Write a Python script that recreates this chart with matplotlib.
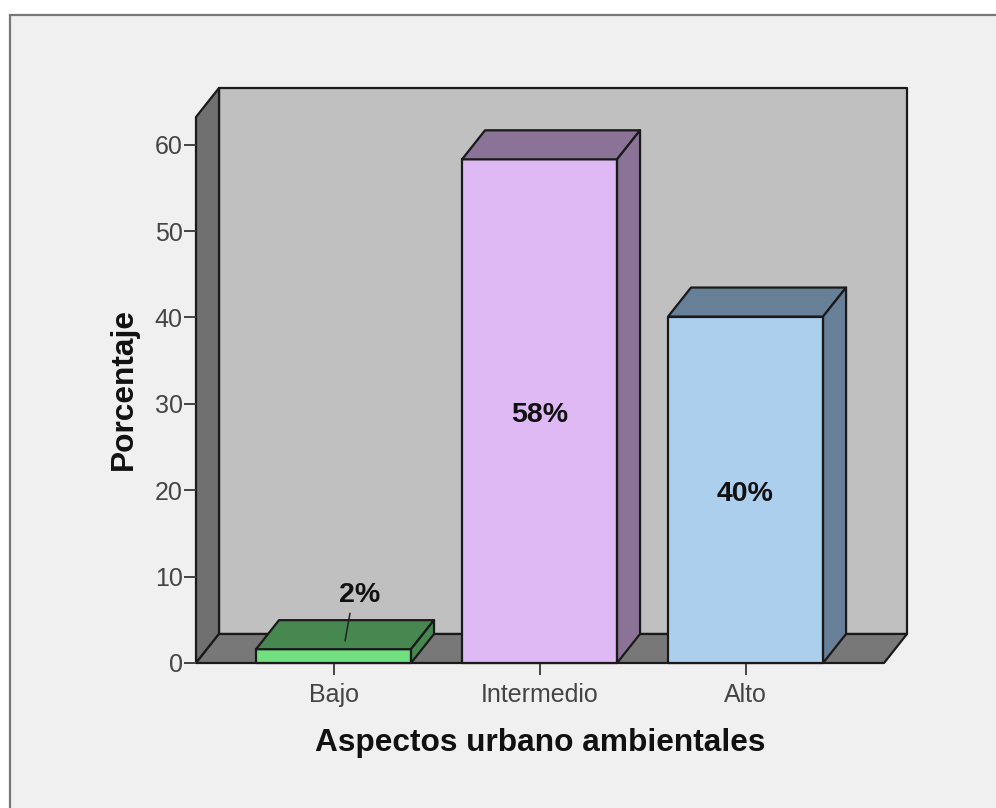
import matplotlib
matplotlib.use('Agg')
import matplotlib.pyplot as plt
import matplotlib.patches as mpatches

categories = ['Bajo', 'Intermedio', 'Alto']
values = [1.6, 58.3, 40.1]
labels = ['2%', '58%', '40%']
yticks = [0, 10, 20, 30, 40, 50, 60]

front_colors = ['#70E080', '#DFB9F3', '#ADCFEE']
top_colors = ['#468850', '#8A7396', '#688097']

plt.rcParams['font.family'] = ['Liberation Sans', 'DejaVu Sans']

W, H = 996, 808
fig = plt.figure(figsize=(W/100, H/100), dpi=100, facecolor='white')

# grey panel behind the chart, runs off the right and bottom edge
panel = mpatches.Rectangle((10/W, -0.01), 1, 1.01 - 15/H, transform=fig.transFigure,
	fc='#F0F0F0', ec='#777777', lw=1.6, zorder=-1)
fig.add_artist(panel)

ax = fig.add_axes([196/W, 1 - 663/H, (884-196)/W, (663-117)/H])
ax.patch.set_visible(False)
ax.set_xlim(-0.6675, 2.672)
ax.set_ylim(0, 63.2)
for s in ax.spines.values():
	s.set_visible(False)

# depth of the fake 3d box, in data units
dx = 23/206
dy = 29/8.633
x0, x1 = ax.get_xlim()
y0, y1 = ax.get_ylim()
edge = '#1A1A1A'

def poly(pts, fc, z=1):
	ax.add_patch(mpatches.Polygon(pts, closed=True, fc=fc, ec=edge, lw=1.6, zorder=z,
		clip_on=False, joinstyle='round'))

poly([(x0+dx, y0+dy), (x1+dx, y0+dy), (x1+dx, y1+dy), (x0+dx, y1+dy)], '#C0C0C0')
poly([(x0, y0), (x0+dx, y0+dy), (x0+dx, y1+dy), (x0, y1)], '#707070')
poly([(x0, y0), (x1, y0), (x1+dx, y0+dy), (x0+dx, y0+dy)], '#787878')

width = 155/206
for i, v in enumerate(values):
	l = i - width/2
	r = i + width/2
	poly([(l, 0), (r, 0), (r, v), (l, v)], front_colors[i], 3)
	poly([(l, v), (r, v), (r+dx, v+dy), (l+dx, v+dy)], top_colors[i], 3)
	poly([(r, 0), (r+dx, dy), (r+dx, v+dy), (r, v)], top_colors[i], 3)

ax.annotate(labels[0], xy=(0.056, 2.55), xytext=(0.128, 7.9), ha='center', va='center',
	fontsize=20.5, fontweight='bold', color='#111111', zorder=5,
	arrowprops=dict(arrowstyle='-', color='#222222', lw=1.1, shrinkA=2, shrinkB=0,
		relpos=(0.34, 0.5)))
ax.text(1, 28.7, labels[1], ha='center', va='center', fontsize=20.5,
	fontweight='bold', color='#111111', zorder=5)
ax.text(2, 19.6, labels[2], ha='center', va='center', fontsize=20.5,
	fontweight='bold', color='#111111', zorder=5)

ax.set_xticks(range(len(categories)))
ax.set_xticklabels(categories)
ax.set_yticks(yticks)
ax.tick_params(axis='both', length=8.6, width=1.4, color='#444444', labelsize=18,
	labelcolor='#444444', pad=1)
ax.tick_params(axis='x', pad=5.7)

ax.set_xlabel('Aspectos urbano ambientales', fontsize=22.8, fontweight='bold', color='#111111',
	labelpad=15)
ax.set_ylabel('Porcentaje', fontsize=22.8, fontweight='bold', color='#111111')
ax.yaxis.set_label_coords(-57/688, (663-389)/546)

fig.savefig('out.png', dpi=100, facecolor=fig.get_facecolor())
